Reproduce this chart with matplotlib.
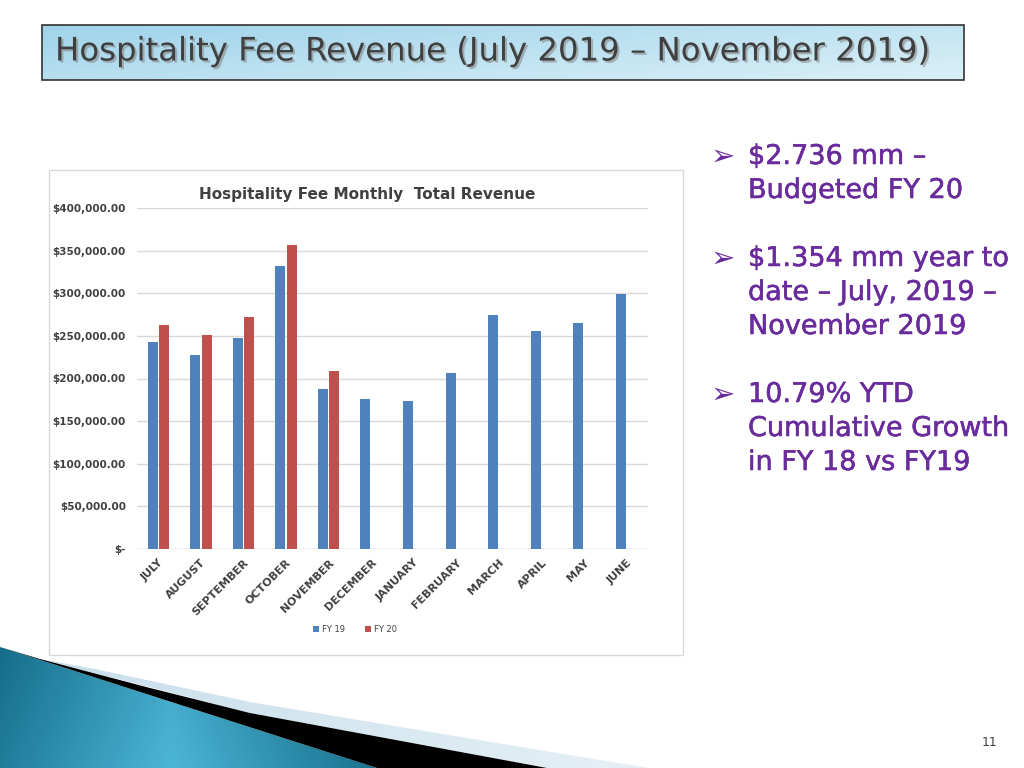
import numpy as np
import matplotlib
matplotlib.use('Agg')
from matplotlib import pyplot as plt
from matplotlib.patches import Rectangle, Polygon
import matplotlib.patheffects as pe

# chart data
months = ['JULY', 'AUGUST', 'SEPTEMBER', 'OCTOBER', 'NOVEMBER', 'DECEMBER',
          'JANUARY', 'FEBRUARY', 'MARCH', 'APRIL', 'MAY', 'JUNE']
fy19 = [243000, 227600, 247900, 331600, 187700, 175600,
        173200, 206100, 274500, 255300, 265100, 299500]
fy20 = [263000, 251000, 272500, 356600, 209100, np.nan,
        np.nan, np.nan, np.nan, np.nan, np.nan, np.nan]
yticks = [0, 50000, 100000, 150000, 200000, 250000, 300000, 350000, 400000]

slide_title = 'Hospitality Fee Revenue (July 2019 \u2013 November 2019)'
chart_title = 'Hospitality Fee Monthly  Total Revenue'
bullets = [['$2.736 mm \u2013', 'Budgeted FY 20'],
           ['$1.354 mm year to', 'date \u2013 July, 2019 \u2013', 'November 2019'],
           ['10.79% YTD', 'Cumulative Growth', 'in FY 18 vs FY19']]

W, H = 1024, 768
fig = plt.figure(figsize=(W / 100, H / 100), dpi=100)
fig.patch.set_facecolor('white')

# background layer in pixel coordinates
bg = fig.add_axes([0, 0, 1, 1], zorder=0)
bg.set_xlim(0, W)
bg.set_ylim(H, 0)
bg.axis('off')

# title box with gradient
gx, gy = np.meshgrid(np.linspace(0, 1, 200), np.linspace(0, 1, 40))
grad = 0.6 * gx + 0.4 * gy
title_cmap = matplotlib.colors.LinearSegmentedColormap.from_list('tb', ['#9fd3ea', '#dbf0f8'])
im = bg.imshow(grad, cmap=title_cmap, extent=(42, 964, 80, 25), aspect='auto', zorder=1)
box = Rectangle((42, 25), 922, 55, facecolor='none', edgecolor='#333333', lw=1.2, zorder=2)
bg.add_patch(box)
im.set_clip_path(box)
bg.text(55, 52, slide_title, fontsize=23.3, color='#3f3f3f', va='center', ha='left', zorder=3,
        path_effects=[pe.withSimplePatchShadow(offset=(1.5, -1.5), shadow_rgbFace='#8a8a8a', alpha=0.6)])

# chart frame
bg.add_patch(Rectangle((49, 170), 634, 485, facecolor='white', edgecolor='#d9d9d9', lw=1, zorder=1))

# decorative wedge bottom-left
lx, ly = np.meshgrid(np.linspace(0, 1, 300), np.linspace(0, 1, 10))
band = Polygon([(90, 668), (250, 702), (600, 760), (650, 768), (547, 768), (250, 713), (40, 659)],
               closed=True, facecolor='none', edgecolor='none')
bg.add_patch(band)
band_cmap = matplotlib.colors.LinearSegmentedColormap.from_list('bd', ['#c8dfeb', '#e6f1f6'])
bim = bg.imshow(lx, cmap=band_cmap, extent=(40, 660, 768, 655), aspect='auto', zorder=2)
bim.set_clip_path(band)

teal = Polygon([(0, 647), (377, 768), (0, 768)], closed=True, facecolor='none', edgecolor='none')
bg.add_patch(teal)
tx, ty = np.meshgrid(np.linspace(0, 1, 300), np.linspace(0, 1, 100))
tgrad = np.clip(1 - np.abs(tx - 0.45) * 1.8, 0, 1) * 0.8 + ty * 0.2
teal_cmap = matplotlib.colors.LinearSegmentedColormap.from_list('tl', ['#0b5f7c', '#4cb6d6'])
tim = bg.imshow(tgrad, cmap=teal_cmap, extent=(0, 380, 768, 640), aspect='auto', zorder=2)
tim.set_clip_path(teal)
bg.add_patch(Polygon([(0, 647), (40, 659), (150, 688), (250, 713), (547, 768), (377, 768)],
                     closed=True, facecolor='black', edgecolor='none', zorder=3))

# bullets
purple = '#6a2c9c'
bold_fx = [pe.withStroke(linewidth=0.4, foreground=purple)]
y0s = [157, 259, 395]
for y0, lines in zip(y0s, bullets):
    bg.text(711, y0, '\u27a2', fontsize=21, color=purple, va='center', ha='left', zorder=3)
    for k, line in enumerate(lines):
        bg.text(748, y0 + k * 34, line, fontsize=19.5, color=purple, va='center', ha='left',
                zorder=3, path_effects=bold_fx)

bg.text(990, 742, '11', fontsize=9, color='#404040', ha='center', va='center', zorder=3)

# the bar chart
ax = fig.add_axes([137 / W, 1 - 549 / H, (648 - 137) / W, (549 - 208) / H], zorder=2)
ax.patch.set_alpha(0)
x = np.arange(len(months))
bw = 0.235
ax.bar(x - 0.135, fy19, width=bw, color='#4f81bd', label='FY 19', zorder=2)
ax.bar(x + 0.135, fy20, width=bw, color='#c0504d', label='FY 20', zorder=2)
ax.set_xlim(-0.5, len(months) - 0.5)
ax.set_ylim(0, 400000)
ax.set_yticks(yticks)
ax.set_yticklabels(['$-' if v == 0 else '${:,.2f}'.format(v) for v in yticks],
                   fontsize=7.5, fontweight='bold', color='#404040')
ax.set_xticks(x)
ax.set_xticklabels(months, rotation=45, ha='right', rotation_mode='anchor',
                   fontsize=8, fontweight='semibold', color='#404040')
ax.tick_params(length=0, pad=8)
ax.tick_params(axis='x', pad=6)
ax.grid(axis='y', color='#d9d9d9', lw=1, zorder=0)
for s in ax.spines.values():
    s.set_visible(False)
ax.axhline(0, color='#d9d9d9', lw=1, zorder=1)

fig.text(367 / W, 1 - 194 / H, chart_title, fontsize=11, fontweight='bold', color='#404040',
         ha='center', va='center')

leg = fig.legend(loc='center', bbox_to_anchor=(355 / W, 1 - 629 / H), ncol=2, frameon=False,
                 fontsize=6, handlelength=0.7, handleheight=0.7, columnspacing=2.5, handletextpad=0.3)
for t in leg.get_texts():
    t.set_color('#404040')

fig.savefig('out.png', dpi=100)
